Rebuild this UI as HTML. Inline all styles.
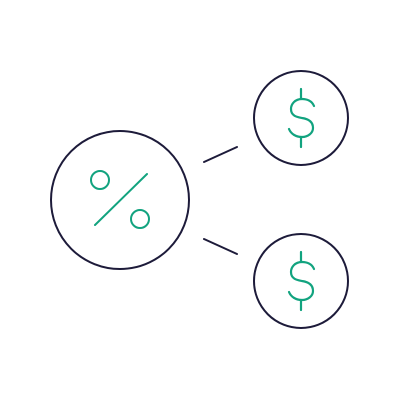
<!DOCTYPE html>
<html><head><meta charset="utf-8"><style>html,body{margin:0;padding:0;background:#fff}svg{display:block}</style></head>
<body>
<svg width="400" height="400" viewBox="0 0 400 400" fill="none" stroke-linecap="round">
  <circle cx="120" cy="200" r="69" stroke="#1d1b3a" stroke-width="2"/>
  <circle cx="301" cy="118" r="47" stroke="#1d1b3a" stroke-width="2"/>
  <circle cx="301" cy="281" r="47" stroke="#1d1b3a" stroke-width="2"/>
  <line x1="204" y1="162" x2="237" y2="147" stroke="#1d1b3a" stroke-width="2"/>
  <line x1="204" y1="239" x2="237" y2="254" stroke="#1d1b3a" stroke-width="2"/>
  <g stroke="#12a37f" stroke-width="2">
    <circle cx="100" cy="180" r="9"/>
    <circle cx="140" cy="219" r="9"/>
    <line x1="95" y1="225" x2="147" y2="174"/>
  </g>
  <g stroke="#12a37f" stroke-width="2.2">
    <path d="M314,106 C312,101 307,99 302,99 C295,99 291,104 291,109 C291,116 297,117 302,118 C309,119 313,122 313,128 C313,133 308,137 302,137 C296,137 291,134 289,129"/>
    <line x1="301" y1="89" x2="301" y2="99"/>
    <line x1="301" y1="137" x2="301" y2="147"/>
  </g>
  <g stroke="#12a37f" stroke-width="2.2" transform="translate(0,163)">
    <path d="M314,106 C312,101 307,99 302,99 C295,99 291,104 291,109 C291,116 297,117 302,118 C309,119 313,122 313,128 C313,133 308,137 302,137 C296,137 291,134 289,129"/>
    <line x1="301" y1="89" x2="301" y2="99"/>
    <line x1="301" y1="137" x2="301" y2="147"/>
  </g>
</svg>
</body></html>
